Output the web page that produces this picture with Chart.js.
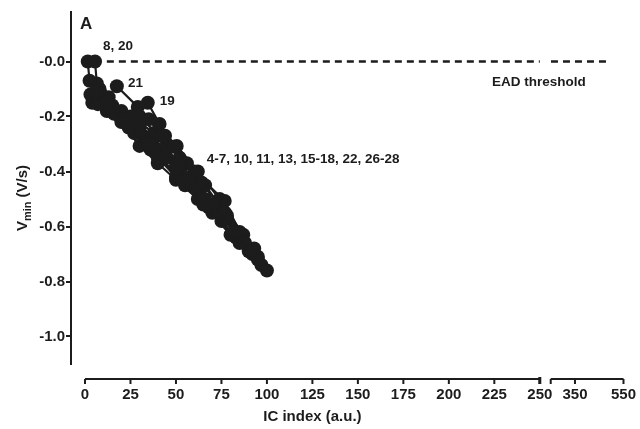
<!DOCTYPE html>
<html>
<head>
<meta charset="utf-8">
<script src="https://cdn.jsdelivr.net/npm/chart.js@4.4.1/dist/chart.umd.min.js"></script>
<style>
  html, body { margin: 0; padding: 0; background: #fff; }
  #wrap { width: 640px; height: 429px; }
</style>
</head>
<body>
<div id="wrap"><canvas id="vminChart" width="640" height="429"></canvas></div>
<script>
// ── Data ──
const icTicks = [0, 25, 50, 75, 100, 125, 150, 175, 200, 225, 250, 350, 550];
const vminTicks = [0, -0.2, -0.4, -0.6, -0.8, -1.0];

// one entry per cell model: IC index vs Vmin
const icSeries = [
    [1.5, 2.5, 6, 12, 22, 35, 50, 66, 82, 100],
    [5.5, 6.5, 9, 15, 25, 38, 53, 70, 88],
    [17.5, 29, 35, 42, 52, 64, 77, 93],
    [34.5, 41, 44, 49, 56, 66, 78, 95],
    [30, 45, 60, 76.8, 85, 92],
    [3, 8, 14, 24, 36, 50, 65, 80, 97],
    [4, 7, 16, 27, 40, 55, 70, 85],
    [8, 13, 20, 30, 43, 58, 73, 90],
    [12, 19, 28, 40, 53, 68, 83],
    [10, 20, 32, 45, 60, 75, 92],
    [6, 12, 25, 37, 50, 63, 78, 95],
    [13.7, 20, 30, 40, 50, 62, 75, 90],
    [25, 38, 50.4, 62, 74, 87]
];
const vminSeries = [
    [0.0, -0.07, -0.11, -0.15, -0.21, -0.30, -0.39, -0.50, -0.62, -0.76],
    [0.0, -0.08, -0.12, -0.16, -0.22, -0.31, -0.41, -0.52, -0.66],
    [-0.09, -0.165, -0.21, -0.27, -0.35, -0.44, -0.55, -0.68],
    [-0.15, -0.227, -0.27, -0.31, -0.37, -0.45, -0.56, -0.71],
    [-0.20, -0.30, -0.40, -0.507, -0.62, -0.69],
    [-0.12, -0.14, -0.17, -0.24, -0.32, -0.42, -0.52, -0.63, -0.74],
    [-0.15, -0.155, -0.19, -0.26, -0.35, -0.45, -0.55, -0.66],
    [-0.10, -0.13, -0.18, -0.24, -0.33, -0.43, -0.54, -0.68],
    [-0.18, -0.20, -0.26, -0.34, -0.43, -0.53, -0.64],
    [-0.13, -0.19, -0.27, -0.35, -0.45, -0.55, -0.70],
    [-0.11, -0.14, -0.22, -0.30, -0.38, -0.47, -0.57, -0.72],
    [-0.18, -0.22, -0.307, -0.37, -0.43, -0.50, -0.58, -0.69],
    [-0.20, -0.26, -0.307, -0.40, -0.50, -0.63]
];

const thresholdIc = [[12, 250], [251, 480]];
const thresholdVmin = [0, 0];

// text labels: [text, IC index, Vmin]
const notes = [
    ['8, 20', 9.9, 0.056],
    ['21', 23.6, -0.078],
    ['19', 41.1, -0.144],
    ['4-7, 10, 11, 13, 15-18, 22, 26-28', 66.9, -0.354],
    ['EAD threshold', 223.7, -0.075]
];

// ── Broken x axis: 0-250 linear, then 250-550 compressed ──
const BREAK = 250, GAP = 6, UPPER_SPAN = 40;
function toAxis(v) {
    if (v <= BREAK) return v;
    return BREAK + GAP + (v - BREAK) * UPPER_SPAN / (550 - BREAK);
}

const INK = '#1c1c1c';
const FONT = "'Liberation Sans', Arial, sans-serif";

const datasets = icSeries.map(function (xs, i) {
    return {
        data: xs.map(function (x, j) { return { x: toAxis(x), y: vminSeries[i][j] }; }),
        borderColor: INK,
        backgroundColor: INK,
        borderWidth: 2.2,
        pointRadius: 7,
        pointBorderWidth: 0,
        pointBackgroundColor: INK,
        tension: 0
    };
});
thresholdIc.forEach(function (seg) {
    datasets.push({
        data: seg.map(function (x, j) { return { x: toAxis(x), y: thresholdVmin[j] }; }),
        borderColor: INK,
        borderWidth: 2.5,
        borderDash: [7, 5],
        pointRadius: 0
    });
});

// ── Custom drawing: broken x axis, y title with subscript, notes ──
const decorations = {
    id: 'decorations',
    afterDraw: function (chart) {
        const ctx = chart.ctx;
        const xs = chart.scales.x, ys = chart.scales.y;
        const axisY = chart.chartArea.bottom + 15;
        ctx.save();
        ctx.strokeStyle = INK;
        ctx.lineWidth = 2;

        // x axis segments
        const x0 = xs.getPixelForValue(0), x250 = xs.getPixelForValue(BREAK);
        const xu0 = xs.getPixelForValue(toAxis(BREAK + 0.001)), xu1 = xs.getPixelForValue(toAxis(550));
        ctx.beginPath();
        ctx.moveTo(x0, axisY); ctx.lineTo(x250, axisY);
        ctx.moveTo(xu0, axisY); ctx.lineTo(xu1, axisY);
        ctx.stroke();
        ctx.beginPath();
        icTicks.forEach(function (t) {
            const px = xs.getPixelForValue(toAxis(t));
            ctx.moveTo(px, axisY); ctx.lineTo(px, axisY + 5);
        });
        ctx.moveTo(xu0, axisY); ctx.lineTo(xu0, axisY + 5);
        ctx.stroke();
        ctx.lineWidth = 3;
        ctx.beginPath();
        ctx.moveTo(x250, axisY - 2); ctx.lineTo(x250, axisY + 5);
        ctx.stroke();

        ctx.fillStyle = INK;
        // x title
        ctx.font = 'bold 15px ' + FONT;
        ctx.textAlign = 'center';
        ctx.textBaseline = 'middle';
        ctx.fillText('IC index (a.u.)', (x0 + x250) / 2, 417);

        // y title with subscript
        ctx.save();
        ctx.translate(22, 198);
        ctx.rotate(-Math.PI / 2);
        ctx.textAlign = 'left';
        ctx.textBaseline = 'alphabetic';
        const bigFont = 'bold 15px ' + FONT, smallFont = 'bold 11px ' + FONT;
        ctx.font = bigFont; const wV = ctx.measureText('V').width;
        ctx.font = smallFont; const wMin = ctx.measureText('min').width;
        ctx.font = bigFont; const wRest = ctx.measureText(' (V/s)').width;
        let cx = -(wV + wMin + wRest) / 2;
        ctx.font = bigFont; ctx.fillText('V', cx, 5); cx += wV;
        ctx.font = smallFont; ctx.fillText('min', cx, 9); cx += wMin;
        ctx.font = bigFont; ctx.fillText(' (V/s)', cx, 5);
        ctx.restore();

        // panel letter
        ctx.font = 'bold 17px ' + FONT;
        ctx.textAlign = 'left';
        ctx.fillText('A', xs.getPixelForValue(-2.7), ys.getPixelForValue(0.136));

        // group labels
        ctx.font = 'bold 13.5px ' + FONT;
        notes.forEach(function (n) {
            ctx.fillText(n[0], xs.getPixelForValue(toAxis(n[1])), ys.getPixelForValue(n[2]));
        });
        ctx.restore();
    }
};

Chart.defaults.font.family = FONT;
Chart.defaults.font.weight = 'bold';
Chart.defaults.font.size = 15;
Chart.defaults.color = INK;

new Chart(document.getElementById('vminChart'), {
    type: 'line',
    data: { datasets: datasets },
    plugins: [decorations],
    options: {
        responsive: false,
        animation: false,
        layout: { padding: { top: 12, right: 16, left: 0, bottom: 0 } },
        plugins: { legend: { display: false }, tooltip: { enabled: false } },
        scales: {
            x: {
                type: 'linear',
                min: -7.7,
                max: toAxis(550),
                border: { display: false },
                grid: { drawOnChartArea: false, color: 'transparent', tickLength: 18 },
                afterBuildTicks: function (scale) {
                    scale.ticks = icTicks.map(function (t) { return { value: toAxis(t) }; });
                },
                afterFit: function (scale) { scale.height = 65; },
                ticks: {
                    autoSkip: false,
                    maxRotation: 0,
                    padding: 4,
                    callback: function (val, i) { return String(icTicks[i]); }
                }
            },
            y: {
                min: -1.1,
                max: 0.18,
                border: { display: true, color: INK, width: 2 },
                grid: { drawOnChartArea: false, color: INK, tickLength: 5, lineWidth: 2 },
                afterBuildTicks: function (scale) {
                    scale.ticks = vminTicks.map(function (t) { return { value: t }; });
                },
                afterFit: function (scale) { scale.width = 71; },
                ticks: {
                    padding: 1,
                    callback: function (val) { return val === 0 ? '-0.0' : val.toFixed(1); }
                }
            }
        }
    }
});
</script>
</body>
</html>
